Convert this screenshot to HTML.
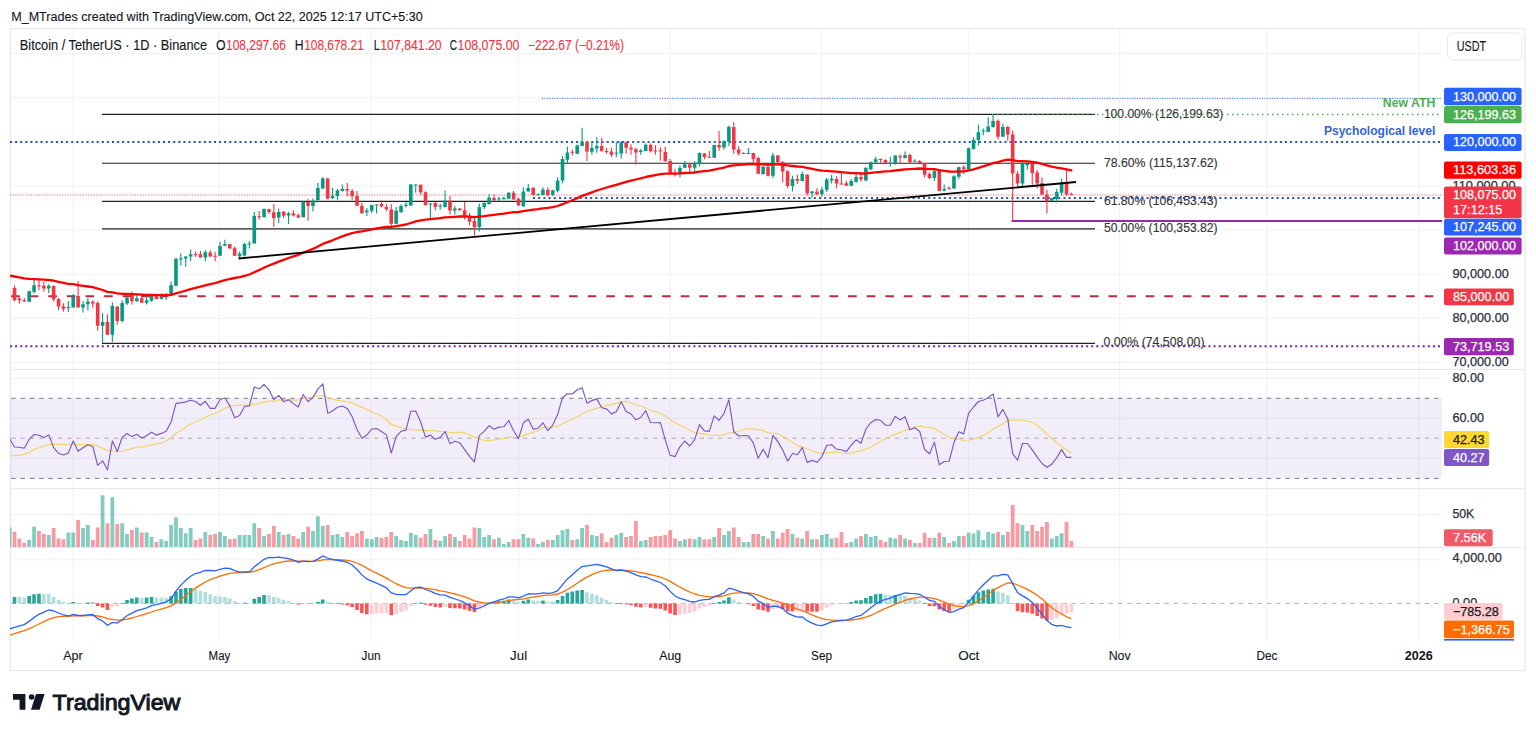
<!DOCTYPE html><html><head><meta charset="utf-8"><style>html,body{margin:0;padding:0;background:#fff;width:1536px;height:734px;overflow:hidden}</style></head><body><svg width="1536" height="734" viewBox="0 0 1536 734" style="display:block;font-family:'Liberation Sans', sans-serif">
<rect width="1536" height="734" fill="#fff"/>
<path d="M73.2 29V641 M219.1 29V641 M371.1 29V641 M518.6 29V641 M670.2 29V641 M821.6 29V641 M968.8 29V641 M1119.7 29V641 M1266.9 29V641 M1418.7 29V641 M10 362.4H1442 M10 318.3H1442 M10 274.2H1442 M10 230.1H1442 M10 186.0H1442 M10 141.9H1442 M10 97.8H1442 M10 53.7H1442 M10 378.6H1442 M10 418.4H1442 M10 458.3H1442 M10 514.5H1442 M10 559.8H1442" stroke="#f0f1f3" stroke-width="1" fill="none"/>
<path d="M10 369.5H1525 M10 488.5H1525 M10 547.5H1525" stroke="#e6e8ed" stroke-width="1.2" fill="none"/>
<rect x="10.5" y="28.5" width="1514.5" height="642" fill="none" stroke="#e6e8ed" stroke-width="1.2"/>
<defs><clipPath id="cm"><rect x="10" y="29" width="1432" height="340"/></clipPath><clipPath id="cr"><rect x="10" y="370" width="1432" height="118"/></clipPath><clipPath id="cv"><rect x="10" y="489" width="1432" height="58"/></clipPath><clipPath id="cd"><rect x="10" y="548" width="1432" height="93"/></clipPath></defs>
<g clip-path="url(#cm)">
<path d="M102 114.4H1095 M102 163.3H1095 M102 201.4H1095 M102 228.9H1095 M102 343.4H1095" stroke="#222" stroke-width="1.1" fill="none"/>
<text x="1103.9" y="117.6" font-size="12" fill="#333" font-weight="normal" stroke="#333" stroke-width="0.12" textLength="119.5" lengthAdjust="spacingAndGlyphs">100.00% (126,199.63)</text>
<text x="1103.9" y="166.5" font-size="12" fill="#333" font-weight="normal" stroke="#333" stroke-width="0.12" textLength="113.8" lengthAdjust="spacingAndGlyphs">78.60% (115,137.62)</text>
<text x="1103.9" y="204.5" font-size="12" fill="#333" font-weight="normal" stroke="#333" stroke-width="0.12" textLength="113.8" lengthAdjust="spacingAndGlyphs">61.80% (106,453.43)</text>
<text x="1103.9" y="231.9" font-size="12" fill="#333" font-weight="normal" stroke="#333" stroke-width="0.12" textLength="113.8" lengthAdjust="spacingAndGlyphs">50.00% (100,353.82)</text>
<text x="1103.4" y="346.4" font-size="12" fill="#333" font-weight="normal" stroke="#333" stroke-width="0.12" textLength="101.1" lengthAdjust="spacingAndGlyphs">0.00% (74,508.00)</text>
<path d="M542 98.4H1442" stroke="#2962FF" stroke-width="1" stroke-dasharray="1.2 1.3" fill="none" opacity="0.85"/>
<path d="M992 114.5H1442" stroke="#4CAF50" stroke-width="1.5" stroke-dasharray="1.5 3.5" fill="none"/>
<path d="M10 142.1H1442" stroke="#2850c0" stroke-width="2" stroke-dasharray="2 3.1" fill="none"/>
<path d="M10 195H1442" stroke="#F23645" stroke-width="1" stroke-dasharray="1.3 1.3" fill="none" opacity="0.7"/>
<path d="M533 197.9H1442" stroke="#2850c0" stroke-width="2" stroke-dasharray="2 3.2" fill="none"/>
<path d="M1011.5 220.9H1442" stroke="#9C27B0" stroke-width="2" fill="none"/>
<path d="M11.1 296.2H1442" stroke="#c2283a" stroke-width="2" stroke-dasharray="8.6 10" fill="none"/>
<path d="M10 346.2H1442" stroke="#7B1FA2" stroke-width="2" stroke-dasharray="2 3.1" fill="none"/>
<text x="1382.8" y="107.4" font-size="12.6" fill="#4CAF50" font-weight="bold" textLength="52.5" lengthAdjust="spacingAndGlyphs">New ATH</text>
<text x="1323.9" y="135.1" font-size="12.6" fill="#3563d8" font-weight="bold" textLength="111.4" lengthAdjust="spacingAndGlyphs">Psychological level</text>
<path d="M29.18 290.5V302.0 M34.07 279.3V293.4 M48.75 284.2V292.9 M68.32 301.0V312.0 M73.22 294.0V307.6 M83.00 301.0V312.5 M87.89 297.8V310.3 M102.57 313.2V342.7 M112.36 302.3V342.1 M122.15 300.2V322.5 M127.04 293.1V305.1 M136.82 294.2V301.8 M146.61 294.7V304.5 M151.50 295.8V301.8 M161.29 293.6V299.6 M166.18 293.0V300.0 M171.08 281.4V295.6 M175.97 257.4V286.3 M180.86 253.3V265.6 M185.75 256.6V266.7 M190.65 249.3V261.2 M205.33 250.3V261.2 M220.01 241.6V255.8 M224.90 239.8V245.7 M239.58 251.4V257.4 M244.47 243.0V256.5 M249.36 240.9V248.5 M254.26 212.0V243.6 M264.04 208.5V217.2 M278.72 208.5V223.1 M288.51 212.0V224.0 M303.19 200.8V217.2 M312.97 198.3V211.4 M317.87 183.1V202.2 M322.76 176.9V188.9 M332.54 188.1V199.2 M337.44 188.9V199.8 M342.33 184.5V191.6 M366.80 208.0V216.1 M371.69 204.7V212.9 M376.58 204.5V213.4 M396.15 206.9V224.3 M401.05 204.2V213.0 M405.94 202.1V207.5 M410.83 184.1V205.9 M415.73 184.4V192.8 M430.40 203.1V217.9 M440.19 203.7V209.7 M445.08 190.6V207.5 M454.87 205.9V214.6 M479.33 203.6V231.4 M484.23 202.3V209.6 M489.12 194.3V204.7 M498.91 196.5V201.4 M503.80 196.5V199.2 M508.69 192.2V198.7 M523.37 187.2V206.9 M528.26 184.0V191.6 M538.05 193.2V195.4 M542.94 187.2V194.9 M552.73 189.4V196.0 M557.62 177.2V192.5 M562.52 156.0V183.2 M567.41 146.4V163.0 M577.19 144.5V153.8 M582.09 127.8V145.9 M591.87 142.3V154.7 M596.77 137.2V152.7 M616.34 142.3V157.1 M621.23 141.3V158.7 M640.80 148.7V154.7 M645.70 143.3V150.9 M679.95 165.6V177.6 M684.84 161.0V168.3 M694.63 161.2V171.6 M699.52 152.5V166.7 M714.20 144.7V157.8 M723.99 140.3V149.6 M728.88 125.8V146.1 M743.56 152.3V153.7 M748.45 148.0V153.7 M763.13 166.0V174.7 M772.91 153.1V178.0 M792.49 175.8V191.6 M802.27 171.4V181.2 M812.06 191.0V197.4 M821.84 186.7V197.0 M826.74 178.0V192.1 M831.63 174.7V183.4 M851.20 179.0V185.8 M856.10 174.1V182.9 M865.88 167.1V181.2 M870.77 161.6V170.3 M875.67 156.7V163.8 M890.35 156.7V166.5 M895.24 155.3V164.7 M905.03 151.6V158.6 M914.81 159.2V162.2 M934.38 169.2V180.7 M944.17 184.5V191.6 M953.96 175.2V189.1 M958.85 166.6V178.9 M968.63 147.6V169.4 M973.53 137.3V149.6 M978.42 124.4V145.5 M983.31 128.5V135.3 M988.21 117.2V131.9 M993.10 114.4V127.8 M1002.89 123.7V136.7 M1022.46 162.1V186.0 M1027.35 160.2V169.4 M1051.82 197.7V201.3 M1056.71 189.1V202.6 M1061.60 178.7V195.8" stroke="#089981" stroke-width="1.1" fill="none"/>
<path d="M14.50 285.3V301.6 M19.39 296.2V303.8 M24.29 298.1V301.8 M38.97 279.8V290.2 M43.86 282.0V291.8 M53.64 285.3V301.6 M58.54 298.1V310.3 M63.43 303.2V311.4 M78.11 280.9V307.6 M92.79 300.2V307.8 M97.68 301.2V330.7 M107.47 314.3V335.0 M117.25 306.1V324.7 M131.93 291.4V304.5 M141.72 294.2V302.9 M156.40 294.7V299.6 M195.54 251.4V256.9 M200.43 250.9V257.4 M210.22 250.3V256.6 M215.11 251.8V261.2 M229.79 244.0V248.5 M234.69 246.5V256.1 M259.15 211.1V219.6 M268.94 208.5V214.1 M273.83 204.1V226.7 M283.62 211.1V218.0 M293.40 210.3V216.5 M298.29 213.6V218.0 M308.08 199.1V220.7 M327.65 178.0V199.2 M347.22 182.9V196.5 M352.12 188.9V199.8 M357.01 191.1V205.8 M361.90 203.1V213.4 M381.47 200.3V207.4 M386.37 204.1V211.2 M391.26 204.1V228.1 M420.62 184.4V194.4 M425.51 191.2V205.3 M435.30 202.1V210.2 M449.98 196.1V214.6 M459.76 207.7V211.3 M464.66 202.1V219.5 M469.55 213.0V225.5 M474.44 215.7V235.8 M494.01 194.3V201.4 M513.59 191.1V199.8 M518.48 197.6V206.3 M533.16 187.2V195.4 M547.84 187.2V196.5 M572.30 149.6V155.4 M586.98 142.3V160.9 M601.66 138.0V151.6 M606.55 148.1V153.8 M611.45 147.5V157.1 M626.12 141.3V153.8 M631.02 144.2V154.7 M635.91 147.6V164.5 M650.59 143.6V152.5 M655.48 144.9V154.7 M660.38 147.3V160.7 M665.27 146.5V161.2 M670.16 159.1V173.2 M675.05 168.9V176.5 M689.73 164.0V173.2 M704.41 153.1V159.6 M709.31 150.9V157.4 M719.09 131.1V150.7 M733.77 122.1V153.7 M738.66 146.1V155.6 M753.34 152.7V164.3 M758.24 156.7V174.1 M768.02 166.5V176.6 M777.81 155.0V165.4 M782.70 161.0V182.3 M787.59 170.3V188.3 M797.38 174.7V184.0 M807.17 174.1V195.4 M816.95 188.3V194.9 M836.52 176.3V188.3 M841.42 172.0V184.5 M846.31 180.7V185.8 M860.99 174.1V181.8 M880.56 158.6V162.7 M885.45 159.2V163.2 M900.13 154.2V164.3 M909.92 153.4V162.7 M919.70 160.0V163.2 M924.60 162.7V177.4 M929.49 172.3V179.0 M939.28 169.8V191.6 M949.06 186.4V189.8 M963.74 165.3V174.1 M997.99 119.6V139.4 M1007.78 125.8V140.7 M1012.67 130.5V221.0 M1017.56 171.3V186.0 M1032.24 162.7V184.8 M1037.14 170.1V188.5 M1042.03 177.4V195.2 M1046.92 189.7V213.6 M1066.49 169.4V195.8 M1071.39 192.5V195.0" stroke="#F23645" stroke-width="1.1" fill="none"/>
<path d="M27.38 291.3h3.6v10.5h-3.6z M32.27 285.3h3.6v6.5h-3.6z M46.95 285.8h3.6v2.7h-3.6z M66.52 307.0h3.6v1.1h-3.6z M71.42 296.2h3.6v11.4h-3.6z M81.20 304.3h3.6v3.3h-3.6z M86.09 301.6h3.6v2.7h-3.6z M100.77 322.0h3.6v3.8h-3.6z M110.56 306.1h3.6v28.6h-3.6z M120.35 303.1h3.6v17.8h-3.6z M125.24 297.4h3.6v6.0h-3.6z M135.02 298.3h3.6v2.9h-3.6z M144.81 300.2h3.6v2.5h-3.6z M149.70 296.1h3.6v4.6h-3.6z M159.49 297.2h3.6v1.8h-3.6z M164.38 295.0h3.6v1.1h-3.6z M169.28 285.2h3.6v10.4h-3.6z M174.17 259.1h3.6v26.7h-3.6z M179.06 258.3h3.6v1.3h-3.6z M183.95 256.6h3.6v1.9h-3.6z M188.85 254.2h3.6v2.4h-3.6z M203.53 252.2h3.6v5.4h-3.6z M218.21 246.0h3.6v9.8h-3.6z M223.10 244.1h3.6v1.6h-3.6z M237.78 253.6h3.6v2.7h-3.6z M242.67 244.1h3.6v11.4h-3.6z M247.56 243.4h3.6v1.0h-3.6z M252.46 216.1h3.6v27.5h-3.6z M262.24 208.9h3.6v8.3h-3.6z M276.92 212.0h3.6v5.6h-3.6z M286.71 213.3h3.6v2.2h-3.6z M301.39 201.9h3.6v15.3h-3.6z M311.17 200.5h3.6v5.5h-3.6z M316.07 188.0h3.6v12.0h-3.6z M320.96 178.5h3.6v10.1h-3.6z M330.74 195.7h3.6v2.4h-3.6z M335.64 190.5h3.6v5.5h-3.6z M340.53 188.9h3.6v2.2h-3.6z M365.00 210.4h3.6v1.9h-3.6z M369.89 204.9h3.6v5.8h-3.6z M374.78 204.5h3.6v1.0h-3.6z M394.35 210.7h3.6v13.1h-3.6z M399.25 205.9h3.6v6.0h-3.6z M404.14 204.8h3.6v1.1h-3.6z M409.03 184.6h3.6v20.7h-3.6z M413.93 184.4h3.6v1.0h-3.6z M428.60 203.4h3.6v1.1h-3.6z M438.39 205.5h3.6v1.0h-3.6z M443.28 200.4h3.6v6.6h-3.6z M453.07 208.6h3.6v2.0h-3.6z M477.53 206.9h3.6v20.1h-3.6z M482.43 203.1h3.6v3.8h-3.6z M487.32 197.6h3.6v6.5h-3.6z M497.11 198.4h3.6v1.0h-3.6z M502.00 198.1h3.6v1.1h-3.6z M506.89 192.7h3.6v6.0h-3.6z M521.57 191.6h3.6v14.7h-3.6z M526.47 188.1h3.6v3.5h-3.6z M536.25 194.3h3.6v1.0h-3.6z M541.14 189.6h3.6v5.3h-3.6z M550.93 190.5h3.6v4.2h-3.6z M555.82 180.5h3.6v10.3h-3.6z M560.72 159.0h3.6v21.5h-3.6z M565.61 152.5h3.6v7.3h-3.6z M575.39 145.6h3.6v8.2h-3.6z M580.29 142.3h3.6v3.6h-3.6z M590.07 148.1h3.6v3.7h-3.6z M594.97 145.9h3.6v2.7h-3.6z M614.54 152.7h3.6v1.0h-3.6z M619.43 142.3h3.6v11.3h-3.6z M639.00 150.6h3.6v1.4h-3.6z M643.90 144.7h3.6v6.2h-3.6z M678.15 168.0h3.6v6.3h-3.6z M683.04 164.3h3.6v3.5h-3.6z M692.83 164.0h3.6v3.8h-3.6z M697.72 153.1h3.6v10.9h-3.6z M712.40 145.0h3.6v12.8h-3.6z M722.19 141.4h3.6v6.2h-3.6z M727.08 126.7h3.6v15.1h-3.6z M741.76 152.9h3.6v1.0h-3.6z M746.65 153.1h3.6v1.0h-3.6z M761.33 166.8h3.6v7.3h-3.6z M771.12 155.6h3.6v20.2h-3.6z M790.69 179.0h3.6v7.1h-3.6z M800.47 174.1h3.6v6.9h-3.6z M810.26 191.6h3.6v1.6h-3.6z M820.04 189.7h3.6v4.6h-3.6z M824.94 179.6h3.6v10.1h-3.6z M829.83 178.8h3.6v1.6h-3.6z M849.40 181.0h3.6v4.8h-3.6z M854.30 176.9h3.6v4.9h-3.6z M864.08 168.1h3.6v12.3h-3.6z M868.98 162.2h3.6v7.0h-3.6z M873.87 159.2h3.6v3.0h-3.6z M888.55 162.7h3.6v1.0h-3.6z M893.44 155.6h3.6v8.0h-3.6z M903.23 154.9h3.6v3.2h-3.6z M913.01 160.8h3.6v1.0h-3.6z M932.58 170.9h3.6v7.1h-3.6z M942.37 188.9h3.6v1.6h-3.6z M952.16 176.2h3.6v12.2h-3.6z M957.05 167.3h3.6v9.5h-3.6z M966.84 148.2h3.6v21.2h-3.6z M971.73 140.1h3.6v8.8h-3.6z M976.62 132.2h3.6v7.9h-3.6z M981.51 130.5h3.6v1.0h-3.6z M986.41 126.4h3.6v5.5h-3.6z M991.30 121.0h3.6v6.1h-3.6z M1001.09 127.1h3.6v9.6h-3.6z M1020.66 163.9h3.6v19.7h-3.6z M1025.55 163.9h3.6v1.3h-3.6z M1050.02 198.3h3.6v2.4h-3.6z M1054.91 192.1h3.6v6.8h-3.6z M1059.80 183.6h3.6v9.2h-3.6z" fill="#089981"/>
<path d="M12.70 288.0h3.6v12.0h-3.6z M17.59 298.6h3.6v1.7h-3.6z M22.49 300.3h3.6v1.3h-3.6z M37.17 285.3h3.6v1.0h-3.6z M42.06 285.8h3.6v2.7h-3.6z M51.84 286.1h3.6v13.5h-3.6z M56.74 298.9h3.6v7.6h-3.6z M61.63 306.5h3.6v2.2h-3.6z M76.31 296.0h3.6v11.6h-3.6z M90.99 301.8h3.6v1.6h-3.6z M95.88 302.9h3.6v22.9h-3.6z M105.67 322.0h3.6v12.7h-3.6z M115.45 306.7h3.6v14.2h-3.6z M130.13 294.7h3.6v6.5h-3.6z M139.92 298.3h3.6v4.4h-3.6z M154.60 296.1h3.6v2.9h-3.6z M193.74 253.9h3.6v1.1h-3.6z M198.63 254.2h3.6v3.2h-3.6z M208.42 252.5h3.6v4.1h-3.6z M213.31 255.8h3.6v1.0h-3.6z M227.99 244.1h3.6v4.4h-3.6z M232.88 248.2h3.6v7.6h-3.6z M257.35 216.3h3.6v1.0h-3.6z M267.14 209.2h3.6v2.8h-3.6z M272.03 212.2h3.6v5.8h-3.6z M281.81 211.7h3.6v4.1h-3.6z M291.60 213.6h3.6v1.9h-3.6z M296.49 215.2h3.6v2.2h-3.6z M306.28 201.9h3.6v4.1h-3.6z M325.85 178.5h3.6v20.2h-3.6z M345.42 188.9h3.6v1.6h-3.6z M350.32 191.1h3.6v4.9h-3.6z M355.21 196.0h3.6v9.8h-3.6z M360.10 205.8h3.6v7.4h-3.6z M379.67 204.1h3.6v2.5h-3.6z M384.57 206.9h3.6v2.1h-3.6z M389.46 209.6h3.6v14.2h-3.6z M418.82 184.8h3.6v7.4h-3.6z M423.71 192.2h3.6v13.1h-3.6z M433.50 203.1h3.6v3.9h-3.6z M448.18 200.4h3.6v10.2h-3.6z M457.96 208.6h3.6v1.3h-3.6z M462.86 210.2h3.6v5.5h-3.6z M467.75 215.7h3.6v6.0h-3.6z M472.64 221.1h3.6v6.0h-3.6z M492.21 198.1h3.6v2.2h-3.6z M511.79 192.7h3.6v6.8h-3.6z M516.68 198.7h3.6v6.5h-3.6z M531.36 187.8h3.6v7.3h-3.6z M546.04 190.0h3.6v4.9h-3.6z M570.50 151.8h3.6v1.0h-3.6z M585.18 142.3h3.6v9.3h-3.6z M599.86 145.9h3.6v5.2h-3.6z M604.75 151.1h3.6v1.0h-3.6z M609.65 151.6h3.6v3.1h-3.6z M624.33 142.3h3.6v5.5h-3.6z M629.22 147.8h3.6v1.4h-3.6z M634.11 149.2h3.6v3.3h-3.6z M648.79 144.7h3.6v6.5h-3.6z M653.68 150.6h3.6v1.0h-3.6z M658.58 150.6h3.6v1.0h-3.6z M663.47 152.0h3.6v9.2h-3.6z M668.36 161.0h3.6v11.7h-3.6z M673.25 172.7h3.6v1.1h-3.6z M687.93 164.3h3.6v3.5h-3.6z M702.61 153.6h3.6v3.5h-3.6z M707.51 156.7h3.6v1.0h-3.6z M717.29 145.0h3.6v2.6h-3.6z M731.97 126.9h3.6v22.7h-3.6z M736.86 149.4h3.6v4.0h-3.6z M751.54 152.9h3.6v6.0h-3.6z M756.44 158.1h3.6v15.7h-3.6z M766.22 166.8h3.6v9.0h-3.6z M776.01 155.6h3.6v6.5h-3.6z M780.90 162.1h3.6v9.3h-3.6z M785.79 171.2h3.6v14.9h-3.6z M795.58 179.0h3.6v1.7h-3.6z M805.37 174.7h3.6v18.7h-3.6z M815.15 191.6h3.6v2.7h-3.6z M834.72 179.0h3.6v4.4h-3.6z M839.62 183.4h3.6v1.0h-3.6z M844.51 183.2h3.6v2.6h-3.6z M859.19 177.1h3.6v2.5h-3.6z M878.76 158.9h3.6v1.0h-3.6z M883.65 160.0h3.6v2.7h-3.6z M898.33 156.2h3.6v1.3h-3.6z M908.12 154.9h3.6v7.3h-3.6z M917.90 161.1h3.6v1.8h-3.6z M922.80 163.2h3.6v11.5h-3.6z M927.69 174.1h3.6v3.9h-3.6z M937.48 170.1h3.6v20.9h-3.6z M947.26 187.7h3.6v1.1h-3.6z M961.94 167.3h3.6v1.6h-3.6z M996.19 120.7h3.6v16.0h-3.6z M1005.98 127.1h3.6v7.5h-3.6z M1010.87 134.6h3.6v38.9h-3.6z M1015.76 173.7h3.6v9.9h-3.6z M1030.44 163.9h3.6v9.0h-3.6z M1035.34 172.5h3.6v11.1h-3.6z M1040.23 182.9h3.6v11.7h-3.6z M1045.12 194.6h3.6v6.7h-3.6z M1064.69 183.6h3.6v11.0h-3.6z M1069.59 194.0h3.6v1.0h-3.6z" fill="#F23645"/>
<polyline points="9.6,275.5 14.5,276.5 19.4,277.4 24.3,278.3 29.2,278.9 34.1,279.1 39.0,279.4 43.9,279.7 48.8,280.0 53.6,280.7 58.5,281.8 63.4,282.8 68.3,283.8 73.2,284.2 78.1,285.2 83.0,285.9 87.9,286.5 92.8,287.2 97.7,288.7 102.6,290.0 107.5,291.8 112.4,292.3 117.3,293.4 122.1,293.8 127.0,294.0 131.9,294.2 136.8,294.4 141.7,294.7 146.6,294.9 151.5,295.0 156.4,295.1 161.3,295.2 166.2,295.2 171.1,294.8 176.0,293.4 180.9,292.0 185.8,290.7 190.6,289.2 195.5,287.9 200.4,286.7 205.3,285.3 210.2,284.2 215.1,283.1 220.0,281.7 224.9,280.2 229.8,279.0 234.7,278.0 239.6,277.1 244.5,275.8 249.4,274.5 254.3,272.2 259.1,270.1 264.0,267.7 268.9,265.5 273.8,263.6 278.7,261.6 283.6,259.8 288.5,258.0 293.4,256.3 298.3,254.8 303.2,252.7 308.1,250.9 313.0,248.9 317.9,246.5 322.8,243.9 327.7,242.1 332.5,240.3 337.4,238.3 342.3,236.4 347.2,234.6 352.1,233.1 357.0,232.0 361.9,231.3 366.8,230.4 371.7,229.4 376.6,228.5 381.5,227.6 386.4,226.9 391.3,226.8 396.2,226.1 401.0,225.3 405.9,224.5 410.8,223.0 415.7,221.4 420.6,220.3 425.5,219.7 430.4,219.1 435.3,218.6 440.2,218.1 445.1,217.4 450.0,217.1 454.9,216.8 459.8,216.5 464.7,216.5 469.5,216.7 474.4,217.1 479.3,216.7 484.2,216.2 489.1,215.4 494.0,214.8 498.9,214.2 503.8,213.6 508.7,212.8 513.6,212.2 518.5,212.0 523.4,211.2 528.3,210.3 533.2,209.7 538.1,209.1 542.9,208.3 547.8,207.8 552.7,207.1 557.6,206.0 562.5,204.2 567.4,202.2 572.3,200.2 577.2,198.1 582.1,195.9 587.0,194.2 591.9,192.4 596.8,190.5 601.7,189.0 606.6,187.5 611.4,186.2 616.3,184.9 621.2,183.3 626.1,181.9 631.0,180.6 635.9,179.5 640.8,178.4 645.7,177.0 650.6,176.0 655.5,175.1 660.4,174.1 665.3,173.6 670.2,173.6 675.1,173.6 679.9,173.4 684.8,173.0 689.7,172.8 694.6,172.5 699.5,171.7 704.4,171.1 709.3,170.6 714.2,169.6 719.1,168.7 724.0,167.7 728.9,166.0 733.8,165.4 738.7,164.9 743.6,164.5 748.4,164.0 753.3,163.8 758.2,164.2 763.1,164.3 768.0,164.8 772.9,164.4 777.8,164.3 782.7,164.6 787.6,165.4 792.5,166.0 797.4,166.5 802.3,166.8 807.2,167.9 812.1,168.8 817.0,169.8 821.8,170.6 826.7,170.9 831.6,171.3 836.5,171.7 841.4,172.2 846.3,172.7 851.2,173.1 856.1,173.2 861.0,173.5 865.9,173.3 870.8,172.8 875.7,172.3 880.6,171.8 885.5,171.4 890.3,171.1 895.2,170.5 900.1,170.0 905.0,169.4 909.9,169.1 914.8,168.8 919.7,168.5 924.6,168.8 929.5,169.1 934.4,169.2 939.3,170.1 944.2,170.8 949.1,171.5 954.0,171.7 958.8,171.5 963.7,171.4 968.6,170.5 973.5,169.3 978.4,167.9 983.3,166.4 988.2,164.8 993.1,163.1 998.0,162.1 1002.9,160.7 1007.8,159.7 1012.7,160.2 1017.6,161.1 1022.5,161.2 1027.4,161.4 1032.2,161.8 1037.1,162.7 1042.0,163.9 1046.9,165.4 1051.8,166.7 1056.7,167.7 1061.6,168.3 1066.5,169.3 1071.4,170.3" stroke="#FF0000" stroke-width="2.3" fill="none" stroke-linejoin="round" stroke-linecap="round"/>
<path d="M238.5 258.5L1076 182" stroke="#000" stroke-width="1.8" fill="none"/>
</g>
<text x="1452.5" y="101.5" font-size="12" fill="#2a2e39" stroke="#2a2e39" stroke-width="0.25" textLength="63.0" lengthAdjust="spacingAndGlyphs">130,000.00</text>
<text x="1452.5" y="145.6" font-size="12" fill="#2a2e39" stroke="#2a2e39" stroke-width="0.25" textLength="63.0" lengthAdjust="spacingAndGlyphs">120,000.00</text>
<text x="1452.5" y="189.7" font-size="12" fill="#2a2e39" stroke="#2a2e39" stroke-width="0.25" textLength="63.0" lengthAdjust="spacingAndGlyphs">110,000.00</text>
<text x="1452.5" y="233.8" font-size="12" fill="#2a2e39" stroke="#2a2e39" stroke-width="0.25" textLength="63.0" lengthAdjust="spacingAndGlyphs">100,000.00</text>
<text x="1452.5" y="277.9" font-size="12" fill="#2a2e39" stroke="#2a2e39" stroke-width="0.25" textLength="56.2" lengthAdjust="spacingAndGlyphs">90,000.00</text>
<text x="1452.5" y="322.0" font-size="12" fill="#2a2e39" stroke="#2a2e39" stroke-width="0.25" textLength="56.2" lengthAdjust="spacingAndGlyphs">80,000.00</text>
<text x="1452.5" y="366.1" font-size="12" fill="#2a2e39" stroke="#2a2e39" stroke-width="0.25" textLength="56.2" lengthAdjust="spacingAndGlyphs">70,000.00</text>
<rect x="1444" y="87.8" width="77.6" height="17.5" rx="2" fill="#2962FF"/>
<text x="1453.0" y="100.5" font-size="12.6" fill="#fff" stroke="#fff" stroke-width="0.25" textLength="63.0" lengthAdjust="spacingAndGlyphs">130,000.00</text>
<rect x="1444" y="106.1" width="77.6" height="17.2" rx="2" fill="#4CAF50"/>
<text x="1453.0" y="118.7" font-size="12.6" fill="#fff" stroke="#fff" stroke-width="0.25" textLength="63.0" lengthAdjust="spacingAndGlyphs">126,199.63</text>
<rect x="1444" y="133.9" width="77.6" height="17.1" rx="2" fill="#2962FF"/>
<text x="1453.0" y="146.4" font-size="12.6" fill="#fff" stroke="#fff" stroke-width="0.25" textLength="63.0" lengthAdjust="spacingAndGlyphs">120,000.00</text>
<rect x="1444" y="161.6" width="77.6" height="17.1" rx="2" fill="#FF0000"/>
<text x="1453.0" y="174.1" font-size="12.6" fill="#fff" stroke="#fff" stroke-width="0.25" textLength="63.0" lengthAdjust="spacingAndGlyphs">113,603.36</text>
<rect x="1444" y="186.6" width="77.6" height="31.6" rx="2" fill="#F23645"/>
<text x="1453.0" y="198.8" font-size="12.6" fill="#fff" stroke="#fff" stroke-width="0.25" textLength="63.0" lengthAdjust="spacingAndGlyphs">108,075.00</text>
<text x="1453.0" y="213.9" font-size="12.6" fill="#fff" stroke="#fff" stroke-width="0.25" textLength="49.4" lengthAdjust="spacingAndGlyphs">17:12:15</text>
<rect x="1444" y="218.7" width="77.6" height="16.8" rx="2" fill="#2962FF"/>
<text x="1453.0" y="231.1" font-size="12.6" fill="#fff" stroke="#fff" stroke-width="0.25" textLength="63.0" lengthAdjust="spacingAndGlyphs">107,245.00</text>
<rect x="1444" y="237.4" width="77.6" height="17.0" rx="2" fill="#9C27B0"/>
<text x="1453.0" y="249.9" font-size="12.6" fill="#fff" stroke="#fff" stroke-width="0.25" textLength="63.0" lengthAdjust="spacingAndGlyphs">102,000.00</text>
<rect x="1444" y="288.5" width="69.8" height="16.8" rx="2" fill="#F23645"/>
<text x="1453.0" y="300.9" font-size="12.6" fill="#fff" stroke="#fff" stroke-width="0.25" textLength="56.2" lengthAdjust="spacingAndGlyphs">85,000.00</text>
<rect x="1444" y="338.0" width="69.8" height="17.3" rx="2" fill="#9C27B0"/>
<text x="1453.0" y="350.6" font-size="12.6" fill="#fff" stroke="#fff" stroke-width="0.25" textLength="56.2" lengthAdjust="spacingAndGlyphs">73,719.53</text>
<g clip-path="url(#cr)">
<rect x="10" y="398.3" width="1432" height="80.1" fill="#7E57C2" fill-opacity="0.1"/>
<path d="M11.2 398.3H1442 M11.2 478.4H1442" stroke="#787B86" stroke-width="1" stroke-dasharray="4.5 4.8" fill="none"/>
<path d="M11.2 438.2H1442" stroke="#787B86" stroke-width="1" stroke-dasharray="4.5 4.8" fill="none" opacity="0.6"/>
<defs><linearGradient id="obg" gradientUnits="userSpaceOnUse" x1="0" y1="380" x2="0" y2="398.3"><stop offset="0" stop-color="#4CAF50" stop-opacity="0.2"/><stop offset="1" stop-color="#4CAF50" stop-opacity="0"/></linearGradient><clipPath id="ob"><rect x="10" y="370" width="1432" height="28.3"/></clipPath></defs>
<polygon clip-path="url(#ob)" points="9.6,398.3 9.6,438.7 14.5,447.0 19.4,447.2 24.3,448.2 29.2,439.3 34.1,434.5 39.0,435.2 43.9,437.4 48.8,434.9 53.6,447.6 58.5,453.2 63.4,455.0 68.3,453.0 73.2,441.0 78.1,451.3 83.0,447.7 87.9,444.7 92.8,446.5 97.7,465.4 102.6,460.8 107.5,469.7 112.4,440.9 117.3,451.5 122.1,437.5 127.0,433.5 131.9,436.5 136.8,434.2 141.7,438.0 146.6,435.8 151.5,432.2 156.4,435.1 161.3,433.4 166.2,431.2 171.1,422.0 176.0,403.4 180.9,402.9 185.8,401.9 190.6,400.3 195.5,401.5 200.4,405.2 205.3,401.3 210.2,408.3 215.1,408.3 220.0,399.5 224.9,398.0 229.8,405.9 234.7,417.8 239.6,415.6 244.5,406.5 249.4,405.9 254.3,387.0 259.1,388.8 264.0,384.3 268.9,389.6 273.8,399.5 278.7,395.4 283.6,401.7 288.5,399.8 293.4,403.6 298.3,407.0 303.2,394.5 308.1,401.6 313.0,397.4 317.9,389.1 322.8,383.9 327.7,413.2 332.5,411.0 337.4,407.2 342.3,406.0 347.2,408.4 352.1,416.5 357.0,429.5 361.9,438.2 366.8,435.1 371.7,429.0 376.6,428.6 381.5,431.5 386.4,434.9 391.3,453.0 396.2,436.6 401.0,431.3 405.9,430.1 410.8,411.3 415.7,411.1 420.6,421.8 425.5,437.1 430.4,435.1 435.3,439.2 440.2,437.4 445.1,431.5 450.0,443.7 454.9,441.2 459.8,442.8 464.7,449.7 469.5,456.3 474.4,461.8 479.3,435.4 484.2,431.4 489.1,425.7 494.0,429.2 498.9,427.1 503.8,426.8 508.7,420.5 513.6,430.8 518.5,438.6 523.4,422.8 528.3,419.2 533.2,429.1 538.1,428.2 542.9,422.8 547.8,430.6 552.7,425.3 557.6,414.6 562.5,397.7 567.4,393.7 572.3,394.0 577.2,389.7 582.1,387.7 587.0,403.2 591.9,400.6 596.8,398.9 601.7,407.7 606.6,408.9 611.4,413.9 616.3,411.8 621.2,401.8 626.1,411.6 631.0,414.0 635.9,419.8 640.8,417.5 645.7,410.7 650.6,422.5 655.5,422.8 660.4,422.5 665.3,439.9 670.2,455.3 675.1,456.6 679.9,446.8 684.8,441.0 689.7,446.0 694.6,439.8 699.5,424.6 704.4,430.9 709.3,431.4 714.2,415.9 719.1,420.3 724.0,413.3 728.9,399.8 733.8,431.8 738.7,436.0 743.6,435.5 748.4,435.7 753.3,442.9 758.2,458.3 763.1,449.2 768.0,457.6 772.9,435.4 777.8,441.6 782.7,449.9 787.6,461.1 792.5,453.5 797.4,454.8 802.3,447.6 807.2,462.4 812.1,460.4 817.0,462.3 821.8,456.8 826.7,445.5 831.6,444.7 836.5,449.1 841.4,449.7 846.3,451.6 851.2,445.1 856.1,439.8 861.0,443.2 865.9,429.0 870.8,422.7 875.7,419.6 880.6,420.3 885.5,425.2 890.3,425.2 895.2,416.5 900.1,419.9 905.0,416.7 909.9,429.7 914.8,427.7 919.7,431.4 924.6,449.5 929.5,453.8 934.4,442.1 939.3,464.8 944.2,461.5 949.1,461.3 954.0,442.6 958.8,431.8 963.7,433.9 968.6,413.3 973.5,407.0 978.4,401.5 983.3,400.3 988.2,397.5 993.1,393.9 998.0,416.9 1002.9,409.4 1007.8,418.9 1012.7,453.8 1017.6,460.1 1022.5,443.5 1027.4,443.5 1032.2,449.9 1037.1,456.9 1042.0,463.5 1046.9,467.3 1051.8,464.2 1056.7,457.9 1061.6,449.6 1066.5,457.4 1071.4,457.4 1071.4,398.3" fill="url(#obg)"/>
<polyline points="9.6,455.8 14.5,455.7 19.4,455.1 24.3,454.4 29.2,452.2 34.1,449.4 39.0,447.7 43.9,446.4 48.8,444.5 53.6,444.2 58.5,444.4 63.4,444.4 68.3,444.6 73.2,443.7 78.1,444.6 83.0,444.7 87.9,444.5 92.8,444.4 97.7,446.3 102.6,448.1 107.5,450.6 112.4,450.9 117.3,452.0 122.1,451.3 127.0,449.9 131.9,448.6 136.8,447.2 141.7,447.0 146.6,445.9 151.5,444.8 156.4,444.1 161.3,443.2 166.2,440.7 171.1,438.0 176.0,433.2 180.9,430.5 185.8,427.0 190.6,424.3 195.5,422.0 200.4,419.8 205.3,417.4 210.2,415.3 215.1,413.4 220.0,411.0 224.9,408.4 229.8,406.4 234.7,405.5 239.6,405.0 244.5,405.2 249.4,405.4 254.3,404.4 259.1,403.5 264.0,402.3 268.9,401.2 273.8,401.1 278.7,400.1 283.6,399.7 288.5,399.7 293.4,400.1 298.3,400.2 303.2,398.5 308.1,397.5 313.0,396.9 317.9,395.7 322.8,395.5 327.7,397.2 332.5,399.1 337.4,400.4 342.3,400.8 347.2,401.8 352.1,402.8 357.0,404.9 361.9,407.4 366.8,409.4 371.7,411.9 376.6,413.8 381.5,416.2 386.4,419.5 391.3,424.4 396.2,426.1 401.0,427.6 405.9,429.2 410.8,429.6 415.7,429.8 420.6,430.1 425.5,430.7 430.4,430.5 435.3,430.8 440.2,431.4 445.1,431.6 450.0,432.4 454.9,432.9 459.8,432.2 464.7,433.1 469.5,434.9 474.4,437.1 479.3,438.9 484.2,440.3 489.1,440.6 494.0,440.0 498.9,439.4 503.8,438.6 508.7,437.4 513.6,437.3 518.5,436.9 523.4,435.6 528.3,433.9 533.2,432.5 538.1,430.5 542.9,427.7 547.8,427.3 552.7,426.9 557.6,426.1 562.5,423.9 567.4,421.5 572.3,419.1 577.2,416.9 582.1,413.9 587.0,411.3 591.9,409.7 596.8,408.3 601.7,406.8 606.6,405.4 611.4,404.7 616.3,403.4 621.2,401.7 626.1,401.5 631.0,402.7 635.9,404.5 640.8,406.2 645.7,407.7 650.6,410.2 655.5,411.6 660.4,413.2 665.3,416.1 670.2,419.5 675.1,422.9 679.9,425.2 684.8,427.3 689.7,430.5 694.6,432.5 699.5,433.3 704.4,434.1 709.3,435.1 714.2,435.4 719.1,435.3 724.0,434.6 728.9,433.0 733.8,432.4 738.7,431.0 743.6,429.5 748.4,428.7 753.3,428.9 758.2,429.7 763.1,430.4 768.0,432.8 772.9,433.1 777.8,433.8 782.7,436.2 787.6,439.1 792.5,442.0 797.4,445.9 802.3,447.1 807.2,449.0 812.1,450.7 817.0,452.6 821.8,453.6 826.7,452.7 831.6,452.4 836.5,451.8 841.4,452.8 846.3,453.5 851.2,453.2 856.1,451.7 861.0,450.9 865.9,449.1 870.8,447.3 875.7,444.3 880.6,441.4 885.5,438.7 890.3,436.5 895.2,434.4 900.1,432.6 905.0,430.3 909.9,428.9 914.8,427.2 919.7,426.2 924.6,426.9 929.5,427.7 934.4,428.6 939.3,431.6 944.2,434.6 949.1,437.5 954.0,438.8 958.8,439.2 963.7,440.5 968.6,440.0 973.5,439.3 978.4,437.3 983.3,435.3 988.2,432.9 993.1,429.0 998.0,426.3 1002.9,424.0 1007.8,420.7 1012.7,420.2 1017.6,420.1 1022.5,420.1 1027.4,421.0 1032.2,422.1 1037.1,425.2 1042.0,429.3 1046.9,434.0 1051.8,438.5 1056.7,442.8 1061.6,446.8 1066.5,449.7 1071.4,453.1" stroke="#F2D56B" stroke-width="1.2" fill="none"/>
<polyline points="9.6,438.7 14.5,447.0 19.4,447.2 24.3,448.2 29.2,439.3 34.1,434.5 39.0,435.2 43.9,437.4 48.8,434.9 53.6,447.6 58.5,453.2 63.4,455.0 68.3,453.0 73.2,441.0 78.1,451.3 83.0,447.7 87.9,444.7 92.8,446.5 97.7,465.4 102.6,460.8 107.5,469.7 112.4,440.9 117.3,451.5 122.1,437.5 127.0,433.5 131.9,436.5 136.8,434.2 141.7,438.0 146.6,435.8 151.5,432.2 156.4,435.1 161.3,433.4 166.2,431.2 171.1,422.0 176.0,403.4 180.9,402.9 185.8,401.9 190.6,400.3 195.5,401.5 200.4,405.2 205.3,401.3 210.2,408.3 215.1,408.3 220.0,399.5 224.9,398.0 229.8,405.9 234.7,417.8 239.6,415.6 244.5,406.5 249.4,405.9 254.3,387.0 259.1,388.8 264.0,384.3 268.9,389.6 273.8,399.5 278.7,395.4 283.6,401.7 288.5,399.8 293.4,403.6 298.3,407.0 303.2,394.5 308.1,401.6 313.0,397.4 317.9,389.1 322.8,383.9 327.7,413.2 332.5,411.0 337.4,407.2 342.3,406.0 347.2,408.4 352.1,416.5 357.0,429.5 361.9,438.2 366.8,435.1 371.7,429.0 376.6,428.6 381.5,431.5 386.4,434.9 391.3,453.0 396.2,436.6 401.0,431.3 405.9,430.1 410.8,411.3 415.7,411.1 420.6,421.8 425.5,437.1 430.4,435.1 435.3,439.2 440.2,437.4 445.1,431.5 450.0,443.7 454.9,441.2 459.8,442.8 464.7,449.7 469.5,456.3 474.4,461.8 479.3,435.4 484.2,431.4 489.1,425.7 494.0,429.2 498.9,427.1 503.8,426.8 508.7,420.5 513.6,430.8 518.5,438.6 523.4,422.8 528.3,419.2 533.2,429.1 538.1,428.2 542.9,422.8 547.8,430.6 552.7,425.3 557.6,414.6 562.5,397.7 567.4,393.7 572.3,394.0 577.2,389.7 582.1,387.7 587.0,403.2 591.9,400.6 596.8,398.9 601.7,407.7 606.6,408.9 611.4,413.9 616.3,411.8 621.2,401.8 626.1,411.6 631.0,414.0 635.9,419.8 640.8,417.5 645.7,410.7 650.6,422.5 655.5,422.8 660.4,422.5 665.3,439.9 670.2,455.3 675.1,456.6 679.9,446.8 684.8,441.0 689.7,446.0 694.6,439.8 699.5,424.6 704.4,430.9 709.3,431.4 714.2,415.9 719.1,420.3 724.0,413.3 728.9,399.8 733.8,431.8 738.7,436.0 743.6,435.5 748.4,435.7 753.3,442.9 758.2,458.3 763.1,449.2 768.0,457.6 772.9,435.4 777.8,441.6 782.7,449.9 787.6,461.1 792.5,453.5 797.4,454.8 802.3,447.6 807.2,462.4 812.1,460.4 817.0,462.3 821.8,456.8 826.7,445.5 831.6,444.7 836.5,449.1 841.4,449.7 846.3,451.6 851.2,445.1 856.1,439.8 861.0,443.2 865.9,429.0 870.8,422.7 875.7,419.6 880.6,420.3 885.5,425.2 890.3,425.2 895.2,416.5 900.1,419.9 905.0,416.7 909.9,429.7 914.8,427.7 919.7,431.4 924.6,449.5 929.5,453.8 934.4,442.1 939.3,464.8 944.2,461.5 949.1,461.3 954.0,442.6 958.8,431.8 963.7,433.9 968.6,413.3 973.5,407.0 978.4,401.5 983.3,400.3 988.2,397.5 993.1,393.9 998.0,416.9 1002.9,409.4 1007.8,418.9 1012.7,453.8 1017.6,460.1 1022.5,443.5 1027.4,443.5 1032.2,449.9 1037.1,456.9 1042.0,463.5 1046.9,467.3 1051.8,464.2 1056.7,457.9 1061.6,449.6 1066.5,457.4 1071.4,457.4" stroke="#7E57C2" stroke-width="1.15" fill="none" stroke-linejoin="round"/>
</g>
<text x="1452.5" y="382.1" font-size="12" fill="#2a2e39" stroke="#2a2e39" stroke-width="0.25" textLength="31.5" lengthAdjust="spacingAndGlyphs">80.00</text>
<text x="1452.5" y="421.7" font-size="12" fill="#2a2e39" stroke="#2a2e39" stroke-width="0.25" textLength="31.5" lengthAdjust="spacingAndGlyphs">60.00</text>
<rect x="1444" y="431.1" width="45.2" height="16.9" rx="2" fill="#FDD835"/>
<text x="1453.0" y="443.9" font-size="12.6" fill="#131722" stroke="#131722" stroke-width="0.25" textLength="31.5" lengthAdjust="spacingAndGlyphs">42.43</text>
<rect x="1444" y="449.1" width="45.2" height="16.8" rx="2" fill="#7E57C2"/>
<text x="1453.0" y="461.8" font-size="12.6" fill="#fff" stroke="#fff" stroke-width="0.25" textLength="31.5" lengthAdjust="spacingAndGlyphs">40.27</text>
<g clip-path="url(#cv)">
<path d="M27.28 540.1h3.8V547h-3.8z M32.17 526.8h3.8V547h-3.8z M46.85 535.1h3.8V547h-3.8z M66.42 532.6h3.8V547h-3.8z M71.32 532.6h3.8V547h-3.8z M81.10 528.1h3.8V547h-3.8z M85.99 525.0h3.8V547h-3.8z M100.67 495.3h3.8V547h-3.8z M110.46 497.2h3.8V547h-3.8z M120.25 523.2h3.8V547h-3.8z M125.14 534.0h3.8V547h-3.8z M134.92 527.4h3.8V547h-3.8z M144.71 532.6h3.8V547h-3.8z M149.60 537.0h3.8V547h-3.8z M159.39 539.2h3.8V547h-3.8z M164.28 540.9h3.8V547h-3.8z M169.18 525.0h3.8V547h-3.8z M174.07 517.4h3.8V547h-3.8z M178.96 528.1h3.8V547h-3.8z M183.85 533.3h3.8V547h-3.8z M188.75 528.1h3.8V547h-3.8z M203.43 532.0h3.8V547h-3.8z M218.11 532.0h3.8V547h-3.8z M223.00 536.1h3.8V547h-3.8z M237.68 535.1h3.8V547h-3.8z M242.57 535.1h3.8V547h-3.8z M247.46 535.1h3.8V547h-3.8z M252.36 523.2h3.8V547h-3.8z M262.14 536.1h3.8V547h-3.8z M276.82 532.0h3.8V547h-3.8z M286.61 534.0h3.8V547h-3.8z M301.29 532.0h3.8V547h-3.8z M311.07 530.9h3.8V547h-3.8z M315.97 516.3h3.8V547h-3.8z M320.86 526.0h3.8V547h-3.8z M330.64 535.1h3.8V547h-3.8z M335.54 534.0h3.8V547h-3.8z M340.43 537.0h3.8V547h-3.8z M364.90 538.5h3.8V547h-3.8z M369.79 539.2h3.8V547h-3.8z M374.68 537.0h3.8V547h-3.8z M394.25 536.1h3.8V547h-3.8z M399.15 540.1h3.8V547h-3.8z M404.04 541.1h3.8V547h-3.8z M408.93 532.8h3.8V547h-3.8z M413.83 535.1h3.8V547h-3.8z M428.50 529.1h3.8V547h-3.8z M438.29 541.1h3.8V547h-3.8z M443.18 536.1h3.8V547h-3.8z M452.97 537.0h3.8V547h-3.8z M477.44 528.1h3.8V547h-3.8z M482.33 537.0h3.8V547h-3.8z M487.22 535.1h3.8V547h-3.8z M497.01 537.8h3.8V547h-3.8z M501.90 544.0h3.8V547h-3.8z M506.79 542.0h3.8V547h-3.8z M521.47 534.0h3.8V547h-3.8z M526.37 537.8h3.8V547h-3.8z M536.15 544.0h3.8V547h-3.8z M541.04 542.0h3.8V547h-3.8z M550.83 540.1h3.8V547h-3.8z M555.72 535.1h3.8V547h-3.8z M560.62 530.2h3.8V547h-3.8z M565.51 529.1h3.8V547h-3.8z M575.29 539.2h3.8V547h-3.8z M580.19 528.1h3.8V547h-3.8z M589.97 535.1h3.8V547h-3.8z M594.87 536.1h3.8V547h-3.8z M614.44 535.1h3.8V547h-3.8z M619.33 532.8h3.8V547h-3.8z M638.90 541.1h3.8V547h-3.8z M643.80 540.1h3.8V547h-3.8z M678.05 541.1h3.8V547h-3.8z M682.94 539.2h3.8V547h-3.8z M692.73 539.2h3.8V547h-3.8z M697.62 537.0h3.8V547h-3.8z M712.30 537.0h3.8V547h-3.8z M722.09 535.1h3.8V547h-3.8z M726.98 530.9h3.8V547h-3.8z M741.66 542.0h3.8V547h-3.8z M746.55 542.0h3.8V547h-3.8z M761.23 536.1h3.8V547h-3.8z M771.01 530.9h3.8V547h-3.8z M790.59 534.0h3.8V547h-3.8z M800.37 538.5h3.8V547h-3.8z M810.16 539.2h3.8V547h-3.8z M819.94 535.1h3.8V547h-3.8z M824.84 534.0h3.8V547h-3.8z M829.73 538.5h3.8V547h-3.8z M849.30 542.0h3.8V547h-3.8z M854.20 538.5h3.8V547h-3.8z M863.98 534.0h3.8V547h-3.8z M868.88 537.0h3.8V547h-3.8z M873.77 536.1h3.8V547h-3.8z M888.45 537.8h3.8V547h-3.8z M893.34 538.5h3.8V547h-3.8z M903.13 538.5h3.8V547h-3.8z M912.91 543.0h3.8V547h-3.8z M932.48 537.8h3.8V547h-3.8z M942.27 537.0h3.8V547h-3.8z M952.06 541.1h3.8V547h-3.8z M956.95 536.1h3.8V547h-3.8z M966.74 532.8h3.8V547h-3.8z M971.63 533.6h3.8V547h-3.8z M976.52 530.2h3.8V547h-3.8z M981.41 540.1h3.8V547h-3.8z M986.31 532.0h3.8V547h-3.8z M991.20 533.6h3.8V547h-3.8z M1000.99 535.1h3.8V547h-3.8z M1020.56 525.0h3.8V547h-3.8z M1025.45 530.9h3.8V547h-3.8z M1049.92 538.5h3.8V547h-3.8z M1054.81 536.1h3.8V547h-3.8z M1059.70 533.3h3.8V547h-3.8z M7.71 527.6h3.8V547h-3.8z" fill="#089981" fill-opacity="0.5"/>
<path d="M12.60 531.8h3.8V547h-3.8z M17.49 538.5h3.8V547h-3.8z M22.39 542.7h3.8V547h-3.8z M37.07 530.9h3.8V547h-3.8z M41.96 534.0h3.8V547h-3.8z M51.74 528.1h3.8V547h-3.8z M56.64 538.5h3.8V547h-3.8z M61.53 539.2h3.8V547h-3.8z M76.21 520.1h3.8V547h-3.8z M90.89 540.1h3.8V547h-3.8z M95.78 527.4h3.8V547h-3.8z M105.57 523.2h3.8V547h-3.8z M115.35 523.9h3.8V547h-3.8z M130.03 529.9h3.8V547h-3.8z M139.82 532.6h3.8V547h-3.8z M154.50 542.0h3.8V547h-3.8z M193.64 540.1h3.8V547h-3.8z M198.53 538.5h3.8V547h-3.8z M208.32 535.1h3.8V547h-3.8z M213.21 534.0h3.8V547h-3.8z M227.89 539.2h3.8V547h-3.8z M232.78 538.5h3.8V547h-3.8z M257.25 528.1h3.8V547h-3.8z M267.04 534.0h3.8V547h-3.8z M271.93 526.0h3.8V547h-3.8z M281.72 535.1h3.8V547h-3.8z M291.50 536.1h3.8V547h-3.8z M296.39 538.5h3.8V547h-3.8z M306.18 526.8h3.8V547h-3.8z M325.75 525.0h3.8V547h-3.8z M345.32 532.0h3.8V547h-3.8z M350.22 536.1h3.8V547h-3.8z M355.11 533.3h3.8V547h-3.8z M360.00 530.9h3.8V547h-3.8z M379.57 537.8h3.8V547h-3.8z M384.47 537.0h3.8V547h-3.8z M389.36 532.0h3.8V547h-3.8z M418.72 537.8h3.8V547h-3.8z M423.61 534.0h3.8V547h-3.8z M433.40 540.1h3.8V547h-3.8z M448.08 534.0h3.8V547h-3.8z M457.86 541.1h3.8V547h-3.8z M462.76 535.1h3.8V547h-3.8z M467.65 538.5h3.8V547h-3.8z M472.54 527.4h3.8V547h-3.8z M492.11 539.2h3.8V547h-3.8z M511.69 539.2h3.8V547h-3.8z M516.58 539.2h3.8V547h-3.8z M531.26 538.5h3.8V547h-3.8z M545.94 540.1h3.8V547h-3.8z M570.40 540.1h3.8V547h-3.8z M585.08 525.0h3.8V547h-3.8z M599.76 533.3h3.8V547h-3.8z M604.65 542.0h3.8V547h-3.8z M609.55 537.8h3.8V547h-3.8z M624.23 537.0h3.8V547h-3.8z M629.12 536.1h3.8V547h-3.8z M634.01 521.1h3.8V547h-3.8z M648.69 537.0h3.8V547h-3.8z M653.58 536.1h3.8V547h-3.8z M658.48 536.1h3.8V547h-3.8z M663.37 535.1h3.8V547h-3.8z M668.26 530.2h3.8V547h-3.8z M673.15 538.5h3.8V547h-3.8z M687.83 538.5h3.8V547h-3.8z M702.51 539.2h3.8V547h-3.8z M707.41 539.2h3.8V547h-3.8z M717.19 528.1h3.8V547h-3.8z M731.87 527.4h3.8V547h-3.8z M736.76 537.0h3.8V547h-3.8z M751.44 534.0h3.8V547h-3.8z M756.34 534.0h3.8V547h-3.8z M766.12 538.5h3.8V547h-3.8z M775.91 538.5h3.8V547h-3.8z M780.80 532.8h3.8V547h-3.8z M785.69 529.1h3.8V547h-3.8z M795.48 537.8h3.8V547h-3.8z M805.27 530.9h3.8V547h-3.8z M815.05 539.2h3.8V547h-3.8z M834.62 537.8h3.8V547h-3.8z M839.52 532.0h3.8V547h-3.8z M844.41 543.0h3.8V547h-3.8z M859.09 536.1h3.8V547h-3.8z M878.66 540.1h3.8V547h-3.8z M883.55 542.0h3.8V547h-3.8z M898.23 535.1h3.8V547h-3.8z M908.02 540.1h3.8V547h-3.8z M917.80 543.0h3.8V547h-3.8z M922.70 532.8h3.8V547h-3.8z M927.59 537.8h3.8V547h-3.8z M937.38 532.8h3.8V547h-3.8z M947.16 543.0h3.8V547h-3.8z M961.84 536.1h3.8V547h-3.8z M996.09 532.0h3.8V547h-3.8z M1005.88 532.0h3.8V547h-3.8z M1010.77 504.9h3.8V547h-3.8z M1015.66 523.2h3.8V547h-3.8z M1030.34 525.0h3.8V547h-3.8z M1035.24 530.9h3.8V547h-3.8z M1040.13 526.8h3.8V547h-3.8z M1045.02 521.9h3.8V547h-3.8z M1064.59 521.9h3.8V547h-3.8z M1069.49 541.1h3.8V547h-3.8z" fill="#F23645" fill-opacity="0.5"/>
</g>
<text x="1452.5" y="517.7" font-size="12" fill="#2a2e39" stroke="#2a2e39" stroke-width="0.25" textLength="21.8" lengthAdjust="spacingAndGlyphs">50K</text>
<rect x="1444" y="529.2" width="48.7" height="17" rx="2" fill="#EF5A67"/>
<text x="1453.0" y="542.0" font-size="12.6" fill="#fff" stroke="#fff" stroke-width="0.25" textLength="33.3" lengthAdjust="spacingAndGlyphs">7.56K</text>
<g clip-path="url(#cd)">
<path d="M11.2 603.4H1442" stroke="#787B86" stroke-width="1" stroke-dasharray="4.5 4.8" fill="none" opacity="0.6"/>
<path d="M12.70 597.0h3.6v6.4h-3.6z M27.38 596.1h3.6v7.3h-3.6z M32.27 594.3h3.6v9.1h-3.6z M37.17 593.7h3.6v9.7h-3.6z M71.42 602.0h3.6v1.4h-3.6z M86.09 602.6h3.6v0.8h-3.6z M90.99 602.5h3.6v0.9h-3.6z M120.35 603.1h3.6v0.6h-3.6z M125.24 599.9h3.6v3.5h-3.6z M130.13 598.6h3.6v4.8h-3.6z M135.02 597.5h3.6v5.9h-3.6z M144.81 597.6h3.6v5.8h-3.6z M149.70 597.0h3.6v6.4h-3.6z M169.28 596.3h3.6v7.1h-3.6z M174.17 591.6h3.6v11.8h-3.6z M179.06 589.1h3.6v14.3h-3.6z M183.95 588.1h3.6v15.3h-3.6z M188.85 587.9h3.6v15.5h-3.6z M242.67 602.8h3.6v0.6h-3.6z M252.46 598.8h3.6v4.6h-3.6z M257.35 597.0h3.6v6.4h-3.6z M262.24 595.1h3.6v8.3h-3.6z M316.07 601.7h3.6v1.7h-3.6z M320.96 599.4h3.6v4.0h-3.6z M413.93 603.0h3.6v0.6h-3.6z M418.82 602.6h3.6v0.8h-3.6z M492.21 602.4h3.6v1.0h-3.6z M497.11 601.3h3.6v2.1h-3.6z M502.00 600.7h3.6v2.7h-3.6z M506.89 599.6h3.6v3.8h-3.6z M521.57 600.7h3.6v2.7h-3.6z M526.47 599.6h3.6v3.8h-3.6z M541.14 600.6h3.6v2.8h-3.6z M555.82 600.1h3.6v3.3h-3.6z M560.72 596.0h3.6v7.4h-3.6z M565.61 592.8h3.6v10.6h-3.6z M570.50 591.6h3.6v11.8h-3.6z M575.39 590.4h3.6v13.0h-3.6z M580.29 590.0h3.6v13.4h-3.6z M619.43 603.3h3.6v0.6h-3.6z M712.40 603.3h3.6v0.6h-3.6z M717.29 602.1h3.6v1.3h-3.6z M722.19 600.5h3.6v2.9h-3.6z M727.08 597.3h3.6v6.1h-3.6z M844.51 603.2h3.6v0.6h-3.6z M849.40 602.1h3.6v1.3h-3.6z M854.30 600.6h3.6v2.8h-3.6z M859.19 600.2h3.6v3.2h-3.6z M864.08 598.0h3.6v5.4h-3.6z M868.98 595.9h3.6v7.5h-3.6z M873.87 594.3h3.6v9.1h-3.6z M878.76 593.8h3.6v9.6h-3.6z M893.44 595.0h3.6v8.4h-3.6z M966.84 599.8h3.6v3.6h-3.6z M971.73 595.7h3.6v7.7h-3.6z M976.62 592.3h3.6v11.1h-3.6z M981.51 590.5h3.6v12.9h-3.6z M986.41 589.4h3.6v14.0h-3.6z M991.30 588.7h3.6v14.7h-3.6z" fill="#26A69A"/>
<path d="M17.59 597.1h3.6v6.3h-3.6z M22.49 597.5h3.6v5.9h-3.6z M42.06 594.0h3.6v9.4h-3.6z M46.95 594.0h3.6v9.4h-3.6z M51.84 596.7h3.6v6.7h-3.6z M56.74 599.7h3.6v3.7h-3.6z M61.63 602.0h3.6v1.4h-3.6z M66.52 603.1h3.6v0.6h-3.6z M76.31 603.1h3.6v0.6h-3.6z M81.20 603.1h3.6v0.6h-3.6z M139.92 597.7h3.6v5.7h-3.6z M154.60 597.4h3.6v6.0h-3.6z M159.49 597.6h3.6v5.8h-3.6z M164.38 597.7h3.6v5.7h-3.6z M193.74 588.9h3.6v14.5h-3.6z M198.63 590.8h3.6v12.6h-3.6z M203.53 591.9h3.6v11.5h-3.6z M208.42 594.2h3.6v9.2h-3.6z M213.31 596.3h3.6v7.1h-3.6z M218.21 596.5h3.6v6.9h-3.6z M223.10 596.9h3.6v6.5h-3.6z M227.99 598.5h3.6v4.9h-3.6z M232.88 601.2h3.6v2.2h-3.6z M237.78 602.9h3.6v0.6h-3.6z M247.56 602.9h3.6v0.6h-3.6z M267.14 595.2h3.6v8.2h-3.6z M272.03 597.0h3.6v6.4h-3.6z M276.92 597.9h3.6v5.5h-3.6z M281.81 599.7h3.6v3.7h-3.6z M286.71 601.0h3.6v2.4h-3.6z M291.60 602.7h3.6v0.7h-3.6z M325.85 601.9h3.6v1.5h-3.6z M511.79 600.3h3.6v3.1h-3.6z M516.68 601.8h3.6v1.6h-3.6z M531.36 600.3h3.6v3.1h-3.6z M536.25 600.8h3.6v2.6h-3.6z M546.04 601.5h3.6v1.9h-3.6z M550.93 601.5h3.6v1.9h-3.6z M585.18 592.2h3.6v11.2h-3.6z M590.07 593.8h3.6v9.6h-3.6z M594.97 595.2h3.6v8.2h-3.6z M599.86 597.7h3.6v5.7h-3.6z M604.75 599.9h3.6v3.5h-3.6z M609.65 602.3h3.6v1.1h-3.6z M731.97 599.4h3.6v4.0h-3.6z M736.86 601.7h3.6v1.7h-3.6z M741.76 603.2h3.6v0.6h-3.6z M883.65 594.4h3.6v9.0h-3.6z M888.55 595.3h3.6v8.1h-3.6z M898.33 595.6h3.6v7.8h-3.6z M903.23 596.0h3.6v7.4h-3.6z M908.12 597.8h3.6v5.6h-3.6z M913.01 599.0h3.6v4.4h-3.6z M917.90 600.5h3.6v2.9h-3.6z M996.19 591.6h3.6v11.8h-3.6z M1001.09 592.7h3.6v10.7h-3.6z M1005.98 595.3h3.6v8.1h-3.6z" fill="#B2DFDB"/>
<path d="M110.56 603.4h3.6v3.0h-3.6z M115.45 603.4h3.6v2.9h-3.6z M301.39 603.4h3.6v0.6h-3.6z M311.17 603.4h3.6v0.6h-3.6z M369.89 603.4h3.6v10.5h-3.6z M374.78 603.4h3.6v10.0h-3.6z M379.67 603.4h3.6v9.8h-3.6z M384.57 603.4h3.6v9.7h-3.6z M394.35 603.4h3.6v10.6h-3.6z M399.25 603.4h3.6v8.7h-3.6z M404.14 603.4h3.6v7.0h-3.6z M409.03 603.4h3.6v2.5h-3.6z M443.28 603.4h3.6v3.5h-3.6z M477.53 603.4h3.6v5.8h-3.6z M482.43 603.4h3.6v3.0h-3.6z M487.32 603.4h3.6v0.6h-3.6z M643.90 603.4h3.6v3.5h-3.6z M678.15 603.4h3.6v11.3h-3.6z M683.04 603.4h3.6v10.0h-3.6z M687.93 603.4h3.6v9.4h-3.6z M692.83 603.4h3.6v8.0h-3.6z M697.72 603.4h3.6v5.0h-3.6z M702.61 603.4h3.6v3.6h-3.6z M707.51 603.4h3.6v2.6h-3.6z M771.12 603.4h3.6v5.8h-3.6z M776.01 603.4h3.6v4.9h-3.6z M795.58 603.4h3.6v8.0h-3.6z M800.47 603.4h3.6v6.3h-3.6z M820.04 603.4h3.6v7.1h-3.6z M824.94 603.4h3.6v4.2h-3.6z M829.83 603.4h3.6v1.8h-3.6z M834.72 603.4h3.6v0.8h-3.6z M839.62 603.4h3.6v0.6h-3.6z M952.16 603.4h3.6v6.0h-3.6z M957.05 603.4h3.6v2.9h-3.6z M961.94 603.4h3.6v1.0h-3.6z M1050.02 603.4h3.6v16.9h-3.6z M1054.91 603.4h3.6v14.8h-3.6z M1059.80 603.4h3.6v11.3h-3.6z M1064.69 603.4h3.6v10.2h-3.6z M1069.59 603.4h3.6v8.9h-3.6z" fill="#FFCDD2"/>
<path d="M95.88 603.4h3.6v2.6h-3.6z M100.77 603.4h3.6v4.0h-3.6z M105.67 603.4h3.6v6.5h-3.6z M296.49 603.4h3.6v1.1h-3.6z M306.28 603.4h3.6v0.6h-3.6z M330.74 603.4h3.6v0.6h-3.6z M335.64 603.4h3.6v0.6h-3.6z M340.53 603.4h3.6v1.1h-3.6z M345.42 603.4h3.6v1.9h-3.6z M350.32 603.4h3.6v3.7h-3.6z M355.21 603.4h3.6v6.5h-3.6z M360.10 603.4h3.6v9.6h-3.6z M365.00 603.4h3.6v10.9h-3.6z M389.46 603.4h3.6v11.9h-3.6z M423.71 603.4h3.6v1.3h-3.6z M428.60 603.4h3.6v2.3h-3.6z M433.50 603.4h3.6v3.6h-3.6z M438.39 603.4h3.6v4.1h-3.6z M448.18 603.4h3.6v4.7h-3.6z M453.07 603.4h3.6v4.9h-3.6z M457.96 603.4h3.6v5.1h-3.6z M462.86 603.4h3.6v6.0h-3.6z M467.75 603.4h3.6v7.3h-3.6z M472.64 603.4h3.6v8.6h-3.6z M614.54 603.4h3.6v0.6h-3.6z M624.33 603.4h3.6v0.8h-3.6z M629.22 603.4h3.6v1.9h-3.6z M634.11 603.4h3.6v3.3h-3.6z M639.00 603.4h3.6v4.0h-3.6z M648.79 603.4h3.6v4.4h-3.6z M653.68 603.4h3.6v5.0h-3.6z M658.58 603.4h3.6v5.3h-3.6z M663.47 603.4h3.6v7.1h-3.6z M668.36 603.4h3.6v10.0h-3.6z M673.25 603.4h3.6v11.6h-3.6z M746.65 603.4h3.6v0.9h-3.6z M751.54 603.4h3.6v2.6h-3.6z M756.44 603.4h3.6v6.0h-3.6z M761.33 603.4h3.6v6.8h-3.6z M766.22 603.4h3.6v8.4h-3.6z M780.90 603.4h3.6v5.6h-3.6z M785.79 603.4h3.6v8.2h-3.6z M790.69 603.4h3.6v8.2h-3.6z M805.37 603.4h3.6v8.0h-3.6z M810.26 603.4h3.6v8.3h-3.6z M815.15 603.4h3.6v8.4h-3.6z M922.80 603.4h3.6v0.6h-3.6z M927.69 603.4h3.6v2.5h-3.6z M932.58 603.4h3.6v2.9h-3.6z M937.48 603.4h3.6v6.2h-3.6z M942.37 603.4h3.6v7.7h-3.6z M947.26 603.4h3.6v8.2h-3.6z M1010.87 603.4h3.6v0.6h-3.6z M1015.76 603.4h3.6v7.7h-3.6z M1020.66 603.4h3.6v8.8h-3.6z M1025.55 603.4h3.6v9.1h-3.6z M1030.44 603.4h3.6v10.4h-3.6z M1035.34 603.4h3.6v12.6h-3.6z M1040.23 603.4h3.6v15.1h-3.6z M1045.12 603.4h3.6v17.1h-3.6z" fill="#FF5252"/>
<polyline points="9.6,635.2 14.5,633.6 19.4,632.1 24.3,630.6 29.2,628.7 34.1,626.5 39.0,624.0 43.9,621.7 48.8,619.3 53.6,617.7 58.5,616.7 63.4,616.4 68.3,616.3 73.2,615.9 78.1,615.9 83.0,615.8 87.9,615.6 92.8,615.4 97.7,616.0 102.6,617.0 107.5,618.6 112.4,619.4 117.3,620.1 122.1,620.0 127.0,619.2 131.9,618.0 136.8,616.5 141.7,615.1 146.6,613.6 151.5,612.0 156.4,610.5 161.3,609.1 166.2,607.7 171.1,605.9 176.0,603.0 180.9,599.4 185.8,595.6 190.6,591.7 195.5,588.1 200.4,584.9 205.3,582.0 210.2,579.7 215.1,577.9 220.0,576.2 224.9,574.6 229.8,573.3 234.7,572.8 239.6,572.7 244.5,572.5 249.4,572.4 254.3,571.3 259.1,569.6 264.0,567.6 268.9,565.5 273.8,563.9 278.7,562.6 283.6,561.6 288.5,561.0 293.4,560.9 298.3,561.1 303.2,561.1 308.1,561.2 313.0,561.3 317.9,560.8 322.8,559.8 327.7,559.5 332.5,559.5 337.4,559.7 342.3,559.9 347.2,560.4 352.1,561.3 357.0,563.0 361.9,565.3 366.8,568.1 371.7,570.7 376.6,573.2 381.5,575.6 386.4,578.1 391.3,581.0 396.2,583.7 401.0,585.9 405.9,587.6 410.8,588.2 415.7,588.1 420.6,587.9 425.5,588.3 430.4,588.8 435.3,589.7 440.2,590.8 445.1,591.6 450.0,592.8 454.9,594.0 459.8,595.3 464.7,596.8 469.5,598.6 474.4,600.8 479.3,602.2 484.2,603.0 489.1,603.1 494.0,602.8 498.9,602.3 503.8,601.6 508.7,600.7 513.6,599.9 518.5,599.5 523.4,598.8 528.3,597.9 533.2,597.1 538.1,596.4 542.9,595.7 547.8,595.2 552.7,594.8 557.6,594.0 562.5,592.1 567.4,589.5 572.3,586.5 577.2,583.3 582.1,579.9 587.0,577.1 591.9,574.7 596.8,572.6 601.7,571.2 606.6,570.3 611.4,570.0 616.3,570.1 621.2,570.1 626.1,570.3 631.0,570.8 635.9,571.6 640.8,572.6 645.7,573.5 650.6,574.6 655.5,575.8 660.4,577.2 665.3,579.0 670.2,581.4 675.1,584.4 679.9,587.2 684.8,589.7 689.7,592.0 694.6,594.0 699.5,595.3 704.4,596.2 709.3,596.8 714.2,596.8 719.1,596.5 724.0,595.8 728.9,594.2 733.8,593.2 738.7,592.8 743.6,592.8 748.4,593.0 753.3,593.6 758.2,595.1 763.1,596.8 768.0,598.9 772.9,600.4 777.8,601.6 782.7,603.0 787.6,605.0 792.5,607.1 797.4,609.1 802.3,610.7 807.2,612.7 812.1,614.8 817.0,616.8 821.8,618.6 826.7,619.7 831.6,620.1 836.5,620.3 841.4,620.4 846.3,620.3 851.2,620.0 856.1,619.3 861.0,618.5 865.9,617.2 870.8,615.3 875.7,613.0 880.6,610.6 885.5,608.4 890.3,606.3 895.2,604.2 900.1,602.3 905.0,600.4 909.9,599.0 914.8,597.9 919.7,597.2 924.6,597.2 929.5,597.9 934.4,598.6 939.3,600.1 944.2,602.1 949.1,604.1 954.0,605.6 958.8,606.3 963.7,606.6 968.6,605.7 973.5,603.8 978.4,601.0 983.3,597.8 988.2,594.3 993.1,590.6 998.0,587.6 1002.9,585.0 1007.8,582.9 1012.7,583.1 1017.6,585.0 1022.5,587.2 1027.4,589.4 1032.2,592.1 1037.1,595.2 1042.0,599.0 1046.9,603.2 1051.8,607.5 1056.7,611.2 1061.6,614.0 1066.5,616.6 1071.4,618.8" stroke="#FF6D00" stroke-width="1.3" fill="none"/>
<polyline points="9.6,628.9 14.5,627.3 19.4,625.8 24.3,624.6 29.2,621.4 34.1,617.4 39.0,614.3 43.9,612.2 48.8,610.0 53.6,610.9 58.5,613.0 63.4,615.0 68.3,616.0 73.2,614.5 78.1,615.5 83.0,615.5 87.9,614.8 92.8,614.5 97.7,618.7 102.6,621.0 107.5,625.2 112.4,622.4 117.3,623.1 122.1,619.7 127.0,615.7 131.9,613.2 136.8,610.6 141.7,609.3 146.6,607.8 151.5,605.7 156.4,604.6 161.3,603.3 166.2,601.9 171.1,598.8 176.0,591.2 180.9,585.1 185.8,580.3 190.6,576.2 195.5,573.5 200.4,572.3 205.3,570.5 210.2,570.5 215.1,570.8 220.0,569.3 224.9,568.1 229.8,568.4 234.7,570.6 239.6,572.2 244.5,571.9 249.4,571.9 254.3,566.7 259.1,563.2 264.0,559.3 268.9,557.4 273.8,557.6 278.7,557.1 283.6,557.9 288.5,558.6 293.4,560.2 298.3,562.2 303.2,561.2 308.1,561.6 313.0,561.4 317.9,559.1 322.8,555.9 327.7,558.0 332.5,559.6 337.4,560.3 342.3,561.0 347.2,562.3 352.1,565.0 357.0,569.5 361.9,574.9 366.8,578.9 371.7,581.2 376.6,583.2 381.5,585.4 386.4,587.8 391.3,592.9 396.2,594.3 401.0,594.6 405.9,594.7 410.8,590.7 415.7,587.7 420.6,587.1 425.5,589.5 430.4,591.2 435.3,593.3 440.2,594.9 445.1,595.1 450.0,597.4 454.9,599.0 459.8,600.5 464.7,602.8 469.5,605.9 474.4,609.4 479.3,608.0 484.2,606.0 489.1,603.4 494.0,601.8 498.9,600.2 503.8,599.0 508.7,596.9 513.6,596.8 518.5,597.9 523.4,596.1 528.3,594.0 533.2,593.9 538.1,593.8 542.9,592.9 547.8,593.4 552.7,592.9 557.6,590.7 562.5,584.7 567.4,578.9 572.3,574.7 577.2,570.2 582.1,566.5 587.0,565.8 591.9,565.1 596.8,564.4 601.7,565.5 606.6,566.8 611.4,568.9 616.3,570.5 621.2,570.0 626.1,571.2 631.0,572.7 635.9,574.9 640.8,576.6 645.7,577.0 650.6,579.0 655.5,580.8 660.4,582.5 665.3,586.1 670.2,591.4 675.1,596.0 679.9,598.4 684.8,599.7 689.7,601.4 694.6,602.0 699.5,600.3 704.4,599.7 709.3,599.4 714.2,596.7 719.1,595.2 724.0,592.9 728.9,588.1 733.8,589.3 738.7,591.1 743.6,592.6 748.4,593.9 753.3,596.2 758.2,601.1 763.1,603.6 768.0,607.4 772.9,606.2 777.8,606.5 782.7,608.6 787.6,613.2 792.5,615.3 797.4,617.1 802.3,617.0 807.2,620.7 812.1,623.1 817.0,625.2 821.8,625.7 826.7,623.8 831.6,621.9 836.5,621.2 841.4,620.5 846.3,620.1 851.2,618.7 856.1,616.5 861.0,615.3 865.9,611.8 870.8,607.8 875.7,604.0 880.6,601.0 885.5,599.4 890.3,598.2 895.2,595.9 900.1,594.5 905.0,593.0 909.9,593.4 914.8,593.6 919.7,594.3 924.6,597.3 929.5,600.4 934.4,601.4 939.3,606.4 944.2,609.7 949.1,612.3 954.0,611.7 958.8,609.2 963.7,607.6 968.6,602.1 973.5,596.1 978.4,589.9 983.3,584.8 988.2,580.2 993.1,575.8 998.0,575.9 1002.9,574.3 1007.8,574.9 1012.7,583.6 1017.6,592.7 1022.5,595.9 1027.4,598.6 1032.2,602.5 1037.1,607.8 1042.0,614.1 1046.9,620.3 1051.8,624.4 1056.7,626.0 1061.6,625.4 1066.5,626.8 1071.4,627.7" stroke="#2962FF" stroke-width="1.3" fill="none"/>
</g>
<text x="1452.5" y="562.4" font-size="12" fill="#2a2e39" stroke="#2a2e39" stroke-width="0.25" textLength="49.4" lengthAdjust="spacingAndGlyphs">4,000.00</text>
<text x="1452.5" y="607.1" font-size="12" fill="#2a2e39" stroke="#2a2e39" stroke-width="0.25" textLength="24.7" lengthAdjust="spacingAndGlyphs">0.00</text>
<rect x="1444" y="602.9" width="58.5" height="16.8" rx="2" fill="#FFCDD2"/>
<text x="1453.0" y="615.6" font-size="12.6" fill="#131722" stroke="#131722" stroke-width="0.25" textLength="45.8" lengthAdjust="spacingAndGlyphs">−785.28</text>
<rect x="1444" y="620.4" width="70" height="17.8" rx="2" fill="#FF6D00"/>
<text x="1453.0" y="633.6" font-size="12.6" fill="#fff" stroke="#fff" stroke-width="0.25" textLength="56.9" lengthAdjust="spacingAndGlyphs">−1,366.75</text>
<rect x="1444" y="639" width="70" height="1.6" fill="#2962FF"/>
<text x="63.2" y="660.2" font-size="12" fill="#131722" font-weight="normal" stroke="#131722" stroke-width="0.12" textLength="19.5" lengthAdjust="spacingAndGlyphs">Apr</text>
<text x="208.6" y="660.2" font-size="12" fill="#131722" font-weight="normal" stroke="#131722" stroke-width="0.12" textLength="21.8" lengthAdjust="spacingAndGlyphs">May</text>
<text x="361.6" y="660.2" font-size="12" fill="#131722" font-weight="normal" stroke="#131722" stroke-width="0.12" textLength="19.0" lengthAdjust="spacingAndGlyphs">Jun</text>
<text x="510.1" y="660.2" font-size="12" fill="#131722" font-weight="normal" stroke="#131722" stroke-width="0.12" textLength="17.0" lengthAdjust="spacingAndGlyphs">Jul</text>
<text x="659.2" y="660.2" font-size="12" fill="#131722" font-weight="normal" stroke="#131722" stroke-width="0.12" textLength="22.0" lengthAdjust="spacingAndGlyphs">Aug</text>
<text x="811.1" y="660.2" font-size="12" fill="#131722" font-weight="normal" stroke="#131722" stroke-width="0.12" textLength="21.0" lengthAdjust="spacingAndGlyphs">Sep</text>
<text x="958.3" y="660.2" font-size="12" fill="#131722" font-weight="normal" stroke="#131722" stroke-width="0.12" textLength="21.0" lengthAdjust="spacingAndGlyphs">Oct</text>
<text x="1108.7" y="660.2" font-size="12" fill="#131722" font-weight="normal" stroke="#131722" stroke-width="0.12" textLength="22.0" lengthAdjust="spacingAndGlyphs">Nov</text>
<text x="1256.4" y="660.2" font-size="12" fill="#131722" font-weight="normal" stroke="#131722" stroke-width="0.12" textLength="21.0" lengthAdjust="spacingAndGlyphs">Dec</text>
<text x="1404.7" y="660.2" font-size="12" fill="#131722" font-weight="bold" textLength="28.0" lengthAdjust="spacingAndGlyphs">2026</text>
<text x="11.2" y="20.5" font-size="12.5" fill="#131722" font-weight="normal" stroke="#131722" stroke-width="0.12" textLength="411.6" lengthAdjust="spacingAndGlyphs">M_MTrades created with TradingView.com, Oct 22, 2025 12:17 UTC+5:30</text>
<text x="19.8" y="49.7" font-size="13.8" fill="#131722" font-weight="normal" stroke="#131722" stroke-width="0.12" textLength="187.2" lengthAdjust="spacingAndGlyphs">Bitcoin / TetherUS · 1D · Binance</text>
<text x="215.9" y="49.7" font-size="13.8" fill="#131722" font-weight="normal" stroke="#131722" stroke-width="0.12" textLength="9.6" lengthAdjust="spacingAndGlyphs">O</text>
<text x="226.0" y="49.7" font-size="13.8" fill="#F23645" font-weight="normal" stroke="#F23645" stroke-width="0.12" textLength="59.9" lengthAdjust="spacingAndGlyphs">108,297.66</text>
<text x="294.8" y="49.7" font-size="13.8" fill="#131722" font-weight="normal" stroke="#131722" stroke-width="0.12" textLength="8.8" lengthAdjust="spacingAndGlyphs">H</text>
<text x="304.2" y="49.7" font-size="13.8" fill="#F23645" font-weight="normal" stroke="#F23645" stroke-width="0.12" textLength="59.6" lengthAdjust="spacingAndGlyphs">108,678.21</text>
<text x="373.7" y="49.7" font-size="13.8" fill="#131722" font-weight="normal" stroke="#131722" stroke-width="0.12" textLength="6.1" lengthAdjust="spacingAndGlyphs">L</text>
<text x="380.3" y="49.7" font-size="13.8" fill="#F23645" font-weight="normal" stroke="#F23645" stroke-width="0.12" textLength="61.4" lengthAdjust="spacingAndGlyphs">107,841.20</text>
<text x="449.7" y="49.7" font-size="13.8" fill="#131722" font-weight="normal" stroke="#131722" stroke-width="0.12" textLength="7.3" lengthAdjust="spacingAndGlyphs">C</text>
<text x="457.5" y="49.7" font-size="13.8" fill="#F23645" font-weight="normal" stroke="#F23645" stroke-width="0.12" textLength="62.0" lengthAdjust="spacingAndGlyphs">108,075.00</text>
<text x="528.0" y="49.7" font-size="13.8" fill="#F23645" font-weight="normal" stroke="#F23645" stroke-width="0.12" textLength="96.0" lengthAdjust="spacingAndGlyphs">−222.67 (−0.21%)</text>
<rect x="1447.5" y="33" width="74.5" height="27" rx="5" fill="#fff" stroke="#e6e8ed" stroke-width="1"/>
<text x="1456.8" y="51.0" font-size="14" fill="#131722" font-weight="normal" stroke="#131722" stroke-width="0.12" textLength="29.3" lengthAdjust="spacingAndGlyphs">USDT</text>
<path d="M13 694H25.4V709.7H19.6V699.8H13Z" fill="#131722"/>
<circle cx="31.6" cy="697" r="2.8" fill="#131722"/>
<path d="M36 694H44.6L39.6 709.7H31Z" fill="#131722"/>
<text x="52.6" y="709.7" font-size="22.5" fill="#131722" font-weight="normal" stroke="#131722" stroke-width="1.0" textLength="127.8" lengthAdjust="spacingAndGlyphs">TradingView</text>
</svg></body></html>
